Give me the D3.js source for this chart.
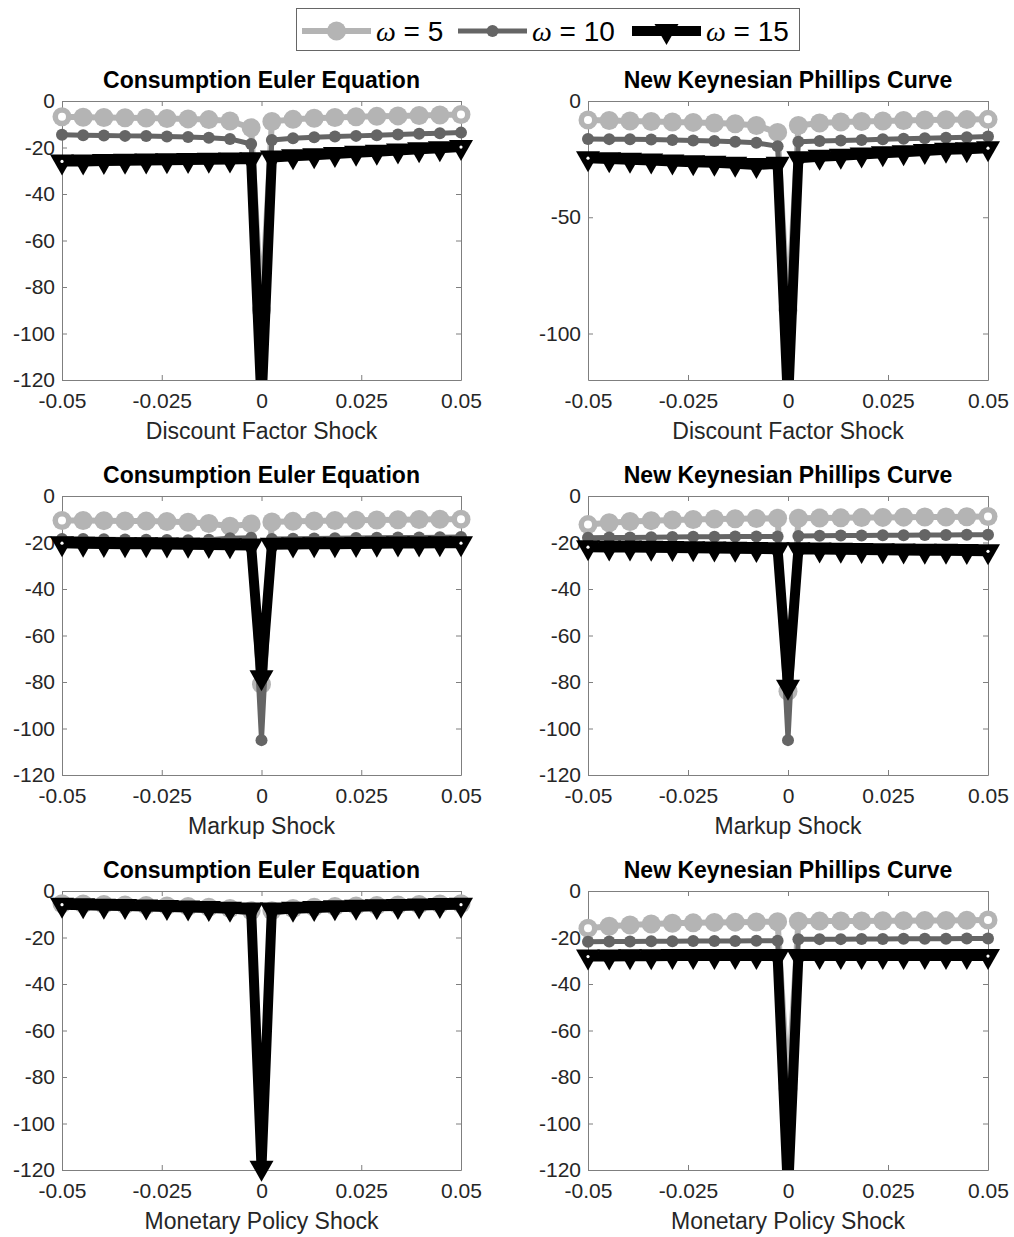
<!DOCTYPE html>
<html>
<head>
<meta charset="utf-8">
<script src="https://cdn.jsdelivr.net/npm/d3@7"></script>
<style>
  body { margin: 0; background: #fff; }
  svg { display: block; font-family: "Liberation Sans", Arial, Helvetica, sans-serif; }
</style>
</head>
<body>
<svg id="fig" width="1014" height="1237"></svg>
<script>
// Shock grid: 20 evenly spaced shocks plus the zero shock
const shockGrid = [-0.05, -0.0447, -0.0395, -0.0342, -0.0289, -0.0237, -0.0184, -0.0132, -0.0079, -0.0026,
                   0,
                   0.0026, 0.0079, 0.0132, 0.0184, 0.0237, 0.0289, 0.0342, 0.0395, 0.0447, 0.05];

const xTickValues = [-0.05, -0.025, 0, 0.025, 0.05];
const xTickLabels = ["-0.05", "-0.025", "0", "0.025", "0.05"];
const yTicksFine = [0, -20, -40, -60, -80, -100, -120];
const yTicksCoarse = [0, -50, -100];
const omegaValues = [5, 10, 15];
const panelTitles = ["Consumption Euler Equation", "New Keynesian Phillips Curve"];
const shockLabels = ["Discount Factor Shock", "Markup Shock", "Monetary Policy Shock"];

// Consumption Euler equation, discount factor shock
const ceeDiscountW5  = [-6.8, -7, -7.1, -7.2, -7.3, -7.5, -7.7, -8, -8.6, -11.5, -90, -8.8, -7.9, -7.4, -7.1, -6.8, -6.6, -6.4, -6.2, -6, -5.8];
const ceeDiscountW10 = [-14.5, -14.7, -14.8, -15, -15.1, -15.3, -15.5, -15.8, -16.3, -18.5, -110, -16.8, -16, -15.6, -15.3, -15, -14.7, -14.4, -14.1, -13.9, -13.6];
const ceeDiscountW15 = [-26, -26, -25.8, -25.7, -25.6, -25.5, -25.4, -25.3, -25.2, -25, -130, -24.3, -23.8, -23.3, -22.8, -22.3, -21.8, -21.3, -20.8, -20.3, -19.8];

// New Keynesian Phillips curve, discount factor shock
const nkpcDiscountW5  = [-8.2, -8.4, -8.6, -8.8, -9, -9.2, -9.5, -9.8, -10.5, -13.5, -90, -10.5, -9.5, -9, -8.8, -8.6, -8.4, -8.2, -8.1, -8, -7.9];
const nkpcDiscountW10 = [-16.3, -16.4, -16.5, -16.6, -16.8, -17, -17.2, -17.5, -18, -19.5, -110, -17.5, -17.2, -17, -16.8, -16.5, -16.2, -16, -15.8, -15.6, -15.3];
const nkpcDiscountW15 = [-24.6, -25, -25.3, -25.6, -26, -26.3, -26.6, -27, -27.5, -27, -130, -24.6, -24, -23.5, -23, -22.5, -22, -21.5, -21, -20.7, -20.3];

// Consumption Euler equation, markup shock
const ceeMarkupW5  = [-10.5, -10.5, -10.6, -10.7, -10.8, -11, -11.3, -11.8, -13, -12, -81, -11.2, -10.9, -10.7, -10.5, -10.4, -10.3, -10.2, -10.1, -10, -10];
const ceeMarkupW10 = [-18.5, -18.5, -18.6, -18.7, -18.8, -18.9, -19, -18.8, -18.2, -18, -105, -18.5, -18.4, -18.3, -18.2, -18.1, -18, -17.9, -17.8, -17.7, -17.6];
const ceeMarkupW15 = [-20.3, -20.5, -20.6, -20.7, -20.8, -20.9, -21, -21.1, -21.2, -21.3, -78, -21, -20.9, -20.8, -20.7, -20.6, -20.5, -20.4, -20.4, -20.3, -20.3];

// New Keynesian Phillips curve, markup shock
const nkpcMarkupW5  = [-12.3, -11.5, -11, -10.6, -10.3, -10.1, -9.9, -9.8, -9.7, -9.6, -84, -9.6, -9.5, -9.4, -9.3, -9.2, -9.1, -9, -9, -8.9, -8.8];
const nkpcMarkupW10 = [-18, -17.9, -17.8, -17.7, -17.6, -17.5, -17.5, -17.4, -17.4, -17.4, -105, -17.2, -17.1, -17, -17, -16.9, -16.9, -16.8, -16.8, -16.7, -16.7];
const nkpcMarkupW15 = [-22, -22.1, -22.2, -22.3, -22.4, -22.5, -22.6, -22.7, -22.8, -22.9, -82, -22.9, -23, -23.1, -23.2, -23.3, -23.4, -23.5, -23.6, -23.7, -23.8];

// Consumption Euler equation, monetary policy shock
const ceeMonetaryW5  = [-5.5, -5.6, -5.8, -6, -6.2, -6.4, -6.7, -7, -7.5, -8.5, -130, -8.5, -7.5, -7, -6.7, -6.4, -6.2, -6, -5.8, -5.6, -5.5];
const ceeMonetaryW10 = [-6.5, -6.6, -6.8, -7, -7.2, -7.4, -7.7, -8, -8.5, -9.5, -130, -9.5, -8.5, -8, -7.7, -7.4, -7.2, -7, -6.8, -6.6, -6.5];
const ceeMonetaryW15 = [-5.9, -6.1, -6.3, -6.5, -6.7, -6.9, -7.1, -7.3, -7.6, -8, -119, -8, -7.6, -7.3, -7, -6.8, -6.6, -6.4, -6.2, -6, -5.9];

// New Keynesian Phillips curve, monetary policy shock
const nkpcMonetaryW5  = [-16, -15.2, -14.6, -14.2, -13.9, -13.7, -13.5, -13.4, -13.3, -13.2, -85, -13, -12.95, -12.9, -12.85, -12.8, -12.75, -12.7, -12.65, -12.6, -12.5];
const nkpcMonetaryW10 = [-21.8, -21.7, -21.7, -21.6, -21.6, -21.5, -21.5, -21.5, -21.4, -21.4, -105, -20.8, -20.7, -20.7, -20.6, -20.6, -20.5, -20.5, -20.5, -20.4, -20.4];
const nkpcMonetaryW15 = [-28.2, -28.2, -28.1, -28.1, -28, -28, -28, -28, -28, -28, -130, -28, -28, -28, -28, -28, -28, -28, -28, -28, -28];

const panels = [
  { title: panelTitles[0], xlabel: shockLabels[0], yTicks: yTicksFine,   series: [ceeDiscountW5, ceeDiscountW10, ceeDiscountW15] },
  { title: panelTitles[1], xlabel: shockLabels[0], yTicks: yTicksCoarse, series: [nkpcDiscountW5, nkpcDiscountW10, nkpcDiscountW15] },
  { title: panelTitles[0], xlabel: shockLabels[1], yTicks: yTicksFine,   series: [ceeMarkupW5, ceeMarkupW10, ceeMarkupW15] },
  { title: panelTitles[1], xlabel: shockLabels[1], yTicks: yTicksFine,   series: [nkpcMarkupW5, nkpcMarkupW10, nkpcMarkupW15] },
  { title: panelTitles[0], xlabel: shockLabels[2], yTicks: yTicksFine,   series: [ceeMonetaryW5, ceeMonetaryW10, ceeMonetaryW15] },
  { title: panelTitles[1], xlabel: shockLabels[2], yTicks: yTicksFine,   series: [nkpcMonetaryW5, nkpcMonetaryW10, nkpcMonetaryW15] }
];

// Line / marker styling for each omega
const styles = [
  { color: "#b4b4b4", width: 6,  marker: "circle",   r: 9.5, hollowEnds: 4 },
  { color: "#656565", width: 5,  marker: "circle",   r: 6,   hollowEnds: 0 },
  { color: "#000000", width: 10, marker: "triangle", w: 24, h: 21, hollowEnds: 1.6 }
];

const colX = [[62, 461], [588, 988]];
const rowY = [[101, 380], [496, 775], [891, 1170]];
const xDomain = [-0.05, 0.05];
const yDomain = [-120, 0];
const axisGray = "#7f7f7f";
const textDark = "#262626";

const svg = d3.select("#fig");
svg.append("rect").attr("width", 1014).attr("height", 1237).attr("fill", "#fff");
const defs = svg.append("defs");

function trianglePath(w, h) {
  return `M${-w / 2},${-h / 3}L${w / 2},${-h / 3}L0,${2 * h / 3}Z`;
}

function drawMarker(g, st, cx, cy) {
  if (st.marker === "circle") {
    g.append("circle").attr("cx", cx).attr("cy", cy).attr("r", st.r).attr("fill", st.color);
  } else {
    g.append("path").attr("d", trianglePath(st.w, st.h))
      .attr("transform", `translate(${cx},${cy})`).attr("fill", st.color);
  }
}

panels.forEach((p, i) => {
  const [x0, x1] = colX[i % 2];
  const [y0, y1] = rowY[Math.floor(i / 2)];
  const x = d3.scaleLinear().domain(xDomain).range([x0, x1]);
  const y = d3.scaleLinear().domain(yDomain).range([y1, y0]);
  const g = svg.append("g");

  const clipId = "clip" + i;
  defs.append("clipPath").attr("id", clipId)
    .append("rect").attr("x", x0).attr("y", y0).attr("width", x1 - x0).attr("height", y1 - y0);

  // Axes box with inward ticks on all four sides
  const fmtY = d => String(d);
  const bottom = g.append("g").attr("transform", `translate(0,${y1})`)
    .call(d3.axisBottom(x).tickValues(xTickValues).tickFormat((d, k) => xTickLabels[k])
      .tickSizeInner(-5).tickSizeOuter(0).tickPadding(13));
  const top = g.append("g").attr("transform", `translate(0,${y0})`)
    .call(d3.axisTop(x).tickValues(xTickValues).tickFormat("").tickSizeInner(-5).tickSizeOuter(0));
  const left = g.append("g").attr("transform", `translate(${x0},0)`)
    .call(d3.axisLeft(y).tickValues(p.yTicks).tickFormat(fmtY).tickSizeInner(-5).tickSizeOuter(0).tickPadding(7));
  const right = g.append("g").attr("transform", `translate(${x1},0)`)
    .call(d3.axisRight(y).tickValues(p.yTicks).tickFormat("").tickSizeInner(-5).tickSizeOuter(0));
  [bottom, top, left, right].forEach(a => {
    a.selectAll("path.domain").attr("stroke", axisGray).attr("stroke-width", 1);
    a.selectAll(".tick line").attr("stroke", axisGray).attr("stroke-width", 1);
    a.selectAll(".tick text").attr("fill", textDark).style("font-size", "21px")
      .style("font-family", '"Liberation Sans", Arial, sans-serif');
  });

  // Series: lines clipped to the axes, markers drawn on top of each line
  p.series.forEach((vals, s) => {
    const st = styles[s];
    const pts = shockGrid.map((xv, k) => [xv, vals[k]]);
    g.append("path")
      .attr("clip-path", `url(#${clipId})`)
      .attr("d", d3.line().x(d => x(d[0])).y(d => y(d[1]))(pts))
      .attr("fill", "none").attr("stroke", st.color).attr("stroke-width", st.width)
      .attr("stroke-linejoin", "round");
    const mg = g.append("g");
    pts.forEach(d => {
      if (d[1] < yDomain[0] || d[1] > yDomain[1]) return;
      drawMarker(mg, st, x(d[0]), y(d[1]));
    });
    if (st.hollowEnds > 0) {
      [pts[0], pts[pts.length - 1]].forEach(d => {
        mg.append("circle").attr("cx", x(d[0])).attr("cy", y(d[1])).attr("r", st.hollowEnds).attr("fill", "#fff");
      });
    }
  });

  // Title and x label
  g.append("text").attr("x", (x0 + x1) / 2).attr("y", y0 - 13)
    .attr("text-anchor", "middle").attr("font-weight", "bold").attr("font-size", 23)
    .attr("fill", "#000").text(p.title);
  g.append("text").attr("x", (x0 + x1) / 2).attr("y", y1 + 59)
    .attr("text-anchor", "middle").attr("font-size", 23)
    .attr("fill", textDark).text(p.xlabel);
});

// Legend
const lg = svg.append("g");
lg.append("rect").attr("x", 296.5).attr("y", 8.5).attr("width", 503).attr("height", 42)
  .attr("fill", "#fff").attr("stroke", "#666").attr("stroke-width", 1);
const legendX = [302, 458, 632];
omegaValues.forEach((w, s) => {
  const st = styles[s];
  const lx = legendX[s];
  const ly = 31;
  lg.append("line").attr("x1", lx).attr("x2", lx + 69).attr("y1", ly).attr("y2", ly)
    .attr("stroke", st.color).attr("stroke-width", st.width);
  drawMarker(lg, st, lx + 34.5, ly);
  const t = lg.append("text").attr("x", lx + 74).attr("y", ly + 10).attr("font-size", 28).attr("fill", "#000");
  t.append("tspan").attr("font-style", "italic").attr("font-family", '"Liberation Serif", "DejaVu Serif", serif').text("ω");
  t.append("tspan").text(" = " + w);
});
</script>
</body>
</html>
